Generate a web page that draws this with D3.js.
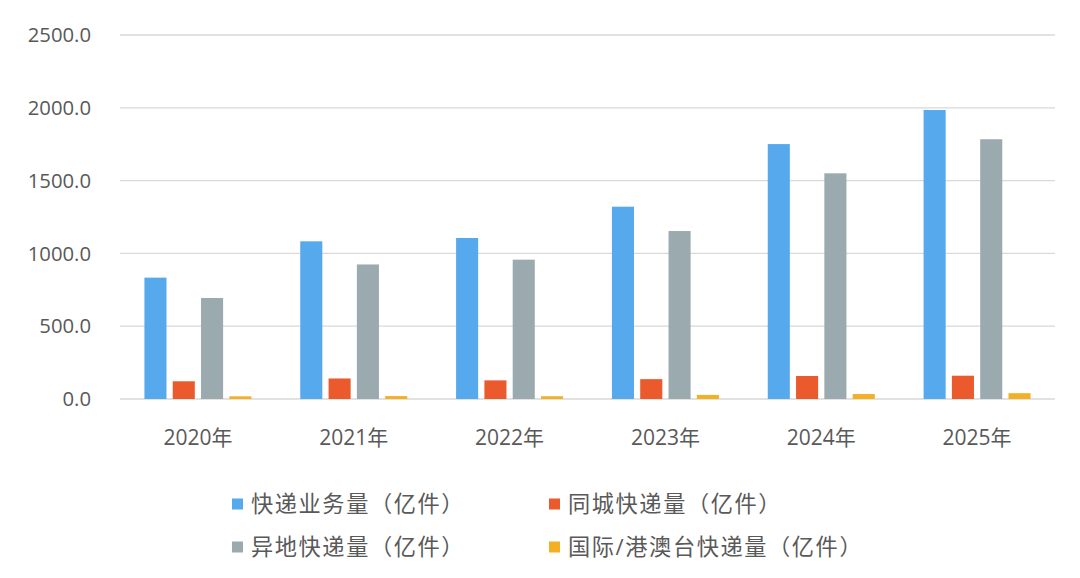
<!DOCTYPE html>
<html><head><meta charset="utf-8">
<script src="https://cdn.jsdelivr.net/npm/d3@7"></script>
<style>body{margin:0;background:#fff}svg{display:block}</style>
</head><body>
<svg id="c" width="1080" height="578"></svg>
<script>
const categories = ["2020年","2021年","2022年","2023年","2024年","2025年"];
const seriesNames = ["快递业务量（亿件）","同城快递量（亿件）","异地快递量（亿件）","国际/港澳台快递量（亿件）"];
const totalVolume = [833.6,1083.0,1105.8,1320.7,1750.8,1985.0];
const intraCity = [121.7,141.0,128.0,136.4,158.0,160.0];
const interCity = [693.6,924.0,957.0,1153.6,1550.0,1784.0];
const intl = [18.4,20.0,19.0,28.0,34.0,40.0];
const yTicks = [0,500,1000,1500,2000,2500];
const colors = ["#57a9ee","#ea5a2c","#9aaaaf","#f4b025"];

const series = [totalVolume, intraCity, interCity, intl];
const svg = d3.select("#c");
const font = "'Open Sans','Noto Sans CJK SC',sans-serif";
const mLeft = 120, mRight = 1055, mTop = 35, mBottom = 399;
const x = d3.scaleBand().domain(categories).range([mLeft, mRight]).paddingInner(0).paddingOuter(0);
const y = d3.scaleLinear().domain([0, 2500]).range([mBottom, mTop]);
const groupW = 107;
const x1 = d3.scaleBand().domain(d3.range(4)).range([0, groupW]).paddingInner(0.22);

// gridlines
svg.append("g").selectAll("line").data(yTicks).join("line")
  .attr("x1", mLeft).attr("x2", mRight)
  .attr("y1", d => y(d)).attr("y2", d => y(d))
  .attr("stroke", "#d9d9d9").attr("stroke-width", 1.3);

// y labels
svg.append("g").selectAll("text").data(yTicks).join("text")
  .attr("x", 91).attr("y", d => y(d)).attr("dy", "0.35em")
  .attr("text-anchor", "end").attr("font-family", font).attr("font-size", 20.3)
  .attr("fill", "#595959").text(d => d.toFixed(1));

// bars
const g = svg.append("g");
categories.forEach((c, i) => {
  const gx = x(c) + (x.bandwidth() - groupW) / 2;
  series.forEach((s, k) => {
    g.append("rect")
      .attr("x", gx + x1(k)).attr("width", x1.bandwidth())
      .attr("y", y(s[i])).attr("height", y(0) - y(s[i]))
      .attr("fill", colors[k]);
  });
});

// x labels
svg.append("g").selectAll("text").data(categories).join("text")
  .attr("x", d => x(d) + x.bandwidth() / 2).attr("y", 438).attr("dy", "0.35em")
  .attr("text-anchor", "middle").attr("font-family", font).attr("font-size", 21)
  .attr("fill", "#595959").text(d => d);

// legend
const legPos = [[232, 504], [549, 504], [232, 547], [549, 547]];
seriesNames.forEach((n, k) => {
  const [lx, ly] = legPos[k];
  svg.append("rect").attr("x", lx).attr("y", ly - 5.5).attr("width", 11).attr("height", 11).attr("fill", colors[k]);
  svg.append("text").attr("x", lx + 19).attr("y", ly).attr("dy", "0.35em")
    .attr("font-family", font).attr("font-size", 22.2).attr("letter-spacing", 1.6)
    .attr("fill", "#595959").text(n);
});
</script>
</body></html>
